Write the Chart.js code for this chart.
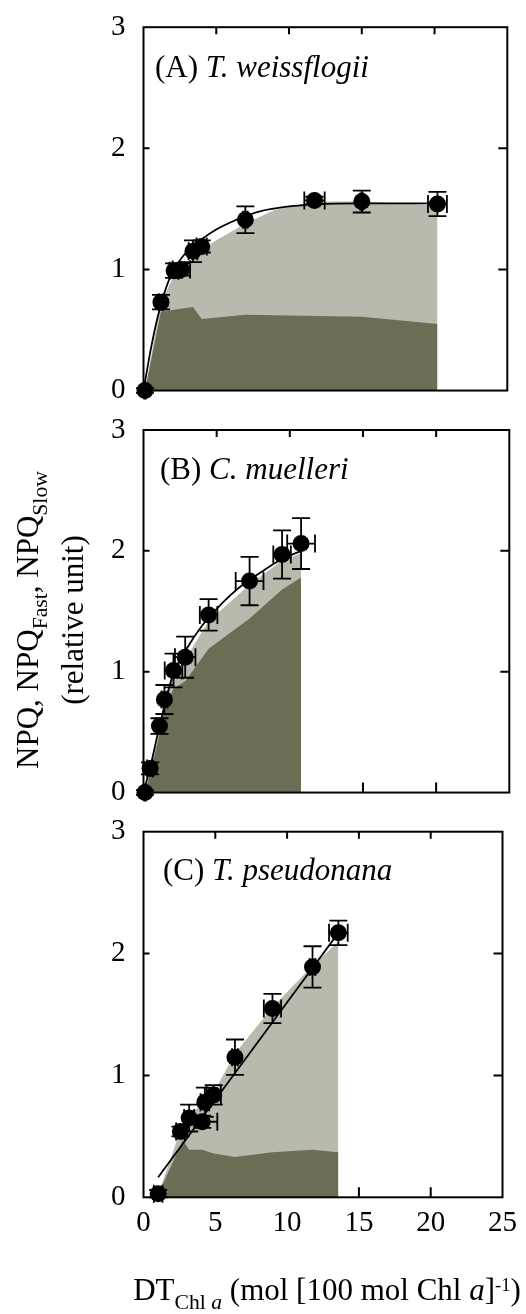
<!DOCTYPE html>
<html>
<head>
<meta charset="utf-8">
<script src="https://cdn.jsdelivr.net/npm/chart.js@4.4.1/dist/chart.umd.min.js"></script>
<style>
  body { margin: 0; background: #fff; }
  #wrap { position: relative; width: 526px; height: 1314px; overflow: hidden; font-family: 'Liberation Serif', serif; color: #000; }
  canvas { position: absolute; left: 0; }
  .tag { position: absolute; font-size: 30px; line-height: 30px; white-space: nowrap; }
  .lo { position: relative; top: 0.42em; font-size: 0.7em; }
  .hi { position: relative; top: -0.5em; font-size: 0.6em; }
</style>
</head>
<body>
<div id="wrap">
  <canvas id="panelA" width="526" height="410" style="top:0px"></canvas>
  <canvas id="panelB" width="526" height="402" style="top:410px"></canvas>
  <canvas id="panelC" width="526" height="502" style="top:812px"></canvas>

  <div class="tag" style="left:155px; top:52px; font-size:31px;">(A) <i>T. weissflogii</i></div>
  <div class="tag" style="left:160px; top:454px; font-size:31px;">(B) <i>C. muelleri</i></div>
  <div class="tag" style="left:163px; top:855px; font-size:31px;">(C) <i>T. pseudonana</i></div>

  <div style="position:absolute; left:-151px; top:578px; width:400px; height:84px; transform:rotate(-90deg); text-align:center; font-size:31px; line-height:42px; white-space:nowrap;">NPQ, NPQ<span class="lo">Fast</span>, NPQ<span class="lo">Slow</span><br>(relative unit)</div>

  <div class="tag" style="left:77px; width:500px; text-align:center; top:1274px; font-size:31px; line-height:31px;">DT<span class="lo">Chl <i>a</i></span> (mol [100 mol Chl <i>a</i>]<span class="hi">-1</span>)</div>
</div>

<script>
const FONT = 'Liberation Serif';
const LIGHT = '#b9b9ad';   // NPQ fast
const DARK = '#6d6d56';    // NPQ slow
const CAP = 9;

// (A) T. weissflogii
const dtA   = [0.1, 1.2, 2.1, 2.6, 3.4, 4.0, 7.0, 11.75, 15.0, 20.2];
const npqA  = [0, 0.73, 0.99, 1.0, 1.15, 1.19, 1.41, 1.57, 1.56, 1.54];
const errXA = [0.05, 0.15, 0.3, 0.6, 0.3, 0.35, 0.15, 0.7, 0.1, 0.65];
const errYA = [0.02, 0.06, 0.06, 0.05, 0.09, 0.05, 0.11, 0.03, 0.09, 0.1];
const fitXA = [0, 0.5, 1, 1.5, 2, 3, 4, 5, 6, 7, 8, 10, 12, 15, 20.2];
const fitYA = [0, 0.34, 0.62, 0.83, 0.98, 1.15, 1.25, 1.33, 1.39, 1.44, 1.48, 1.52, 1.54, 1.545, 1.545];
const totXA = [0.1, 1.2, 2.1, 2.6, 3.4, 4.0, 5.0, 6.0, 7.0, 9.0, 11.75, 15.0, 20.2];
const totYA = [0, 0.73, 0.95, 0.99, 1.10, 1.16, 1.24, 1.31, 1.38, 1.49, 1.56, 1.56, 1.53];
const slowXA = [0.1, 1.2, 3.4, 4.0, 7.0, 10.0, 15.0, 20.2];
const slowYA = [0, 0.65, 0.69, 0.59, 0.625, 0.62, 0.61, 0.55];

// (B) C. muelleri
const dtB   = [0.1, 0.45, 1.09, 1.43, 2.05, 2.85, 4.45, 7.25, 9.47, 10.77];
const npqB  = [0, 0.2, 0.55, 0.77, 1.01, 1.12, 1.47, 1.75, 1.97, 2.06];
const errXB = [0.05, 0.2, 0.25, 0.2, 0.6, 0.7, 0.6, 0.95, 0.6, 0.95];
const errYB = [0.02, 0.05, 0.065, 0.12, 0.14, 0.17, 0.13, 0.2, 0.2, 0.21];
const fitXB = [0, 0.5, 1, 1.5, 2, 3, 4, 5, 6, 7, 8, 9, 10, 10.8];
const fitYB = [0, 0.23, 0.5, 0.75, 0.97, 1.2, 1.38, 1.52, 1.64, 1.74, 1.82, 1.9, 1.96, 2.0];
const totXB = [0.1, 0.45, 1.09, 1.43, 2.05, 2.85, 4.45, 7.25, 9.47, 10.77];
const totYB = [0, 0.18, 0.52, 0.74, 0.98, 1.1, 1.42, 1.72, 1.92, 1.98];
const slowXB = [0.1, 0.45, 1.09, 1.43, 2.05, 2.85, 4.45, 7.25, 9.47, 10.77];
const slowYB = [0, 0.15, 0.48, 0.68, 0.86, 0.92, 1.19, 1.44, 1.68, 1.78];

// (C) T. pseudonana
const dtC   = [1.02, 2.57, 3.18, 4.09, 4.27, 4.89, 6.37, 8.98, 11.77, 13.57];
const npqC  = [0.03, 0.54, 0.65, 0.62, 0.78, 0.84, 1.15, 1.55, 1.89, 2.17];
const errXC = [0.3, 0.3, 0.35, 1.05, 0.3, 0.5, 0.2, 0.6, 0.2, 0.65];
const errYC = [0.03, 0.04, 0.11, 0.05, 0.12, 0.08, 0.145, 0.12, 0.17, 0.1];
const fitXC = [1.02, 13.57];
const fitYC = [0.165, 2.17];
const totXC = [1.02, 2.57, 3.18, 4.27, 4.89, 6.37, 8.98, 11.77, 13.57];
const totYC = [0.02, 0.55, 0.66, 0.8, 0.86, 1.18, 1.56, 1.9, 2.1];
const slowXC = [1.02, 2.73, 3.18, 4.09, 4.89, 6.37, 8.98, 11.77, 13.57];
const slowYC = [0.02, 0.47, 0.39, 0.39, 0.36, 0.33, 0.37, 0.39, 0.37];

const xTicks = [0, 5, 10, 15, 20, 25];
const yTicks = [0, 1, 2, 3];

function pts(xs, ys) {
  return xs.map((x, i) => ({ x: x, y: ys[i] }));
}

// closed frame with inward tick marks
const frame = {
  id: 'frame',
  beforeDatasetsDraw(chart) {
    const { ctx, chartArea: a, scales: { x, y } } = chart;
    ctx.save();
    ctx.strokeStyle = '#000';
    ctx.lineWidth = 2;
    ctx.beginPath();
    xTicks.slice(1, -1).forEach(v => {
      const px = x.getPixelForValue(v);
      ctx.moveTo(px, a.top); ctx.lineTo(px, a.top + 7);
      ctx.moveTo(px, a.bottom); ctx.lineTo(px, a.bottom - 10);
    });
    yTicks.slice(1, -1).forEach(v => {
      const py = y.getPixelForValue(v);
      ctx.moveTo(a.left, py); ctx.lineTo(a.left + 6, py);
      ctx.moveTo(a.right, py); ctx.lineTo(a.right - 9, py);
    });
    ctx.stroke();
    ctx.restore();
  },
  afterDatasetDraw(chart, args) {
    if (args.index !== 1) return;
    const { ctx, chartArea: a } = chart;
    ctx.save();
    ctx.strokeStyle = '#000';
    ctx.lineWidth = 2;
    ctx.strokeRect(a.left, a.top, a.right - a.left, a.bottom - a.top);
    ctx.restore();
  }
};

// x and y error bars with caps, under the markers
const errorBars = {
  id: 'errorBars',
  beforeDatasetDraw(chart, args) {
    const ds = chart.data.datasets[args.index];
    if (!ds.errY) return;
    const { ctx, scales: { x, y } } = chart;
    ctx.save();
    ctx.strokeStyle = '#000';
    ctx.lineWidth = 1.8;
    ds.data.forEach((p, i) => {
      const px = x.getPixelForValue(p.x), py = y.getPixelForValue(p.y);
      const y0 = y.getPixelForValue(p.y - ds.errY[i]), y1 = y.getPixelForValue(p.y + ds.errY[i]);
      const x0 = x.getPixelForValue(p.x - ds.errX[i]), x1 = x.getPixelForValue(p.x + ds.errX[i]);
      ctx.beginPath();
      ctx.moveTo(px, y0); ctx.lineTo(px, y1);
      ctx.moveTo(px - CAP, y0); ctx.lineTo(px + CAP, y0);
      ctx.moveTo(px - CAP, y1); ctx.lineTo(px + CAP, y1);
      ctx.moveTo(x0, py); ctx.lineTo(x1, py);
      ctx.moveTo(x0, py - CAP); ctx.lineTo(x0, py + CAP);
      ctx.moveTo(x1, py - CAP); ctx.lineTo(x1, py + CAP);
      ctx.stroke();
    });
    ctx.restore();
  }
};

function makePanel(id, d, box) {
  return new Chart(document.getElementById(id), {
    type: 'scatter',
    data: {
      datasets: [
        { data: pts(d.totX, d.totY), showLine: true, fill: 'origin', backgroundColor: LIGHT,
          borderWidth: 0, pointRadius: 0, tension: 0, order: 4 },
        { data: pts(d.slowX, d.slowY), showLine: true, fill: 'origin', backgroundColor: DARK,
          borderWidth: 0, pointRadius: 0, tension: 0, order: 3 },
        { data: pts(d.fitX, d.fitY), showLine: true, fill: false, borderColor: '#000',
          borderWidth: 1.8, pointRadius: 0, cubicInterpolationMode: 'monotone', order: 2 },
        { data: pts(d.dt, d.npq), errX: d.errX, errY: d.errY, pointRadius: 8.5,
          pointBackgroundColor: '#000', pointBorderWidth: 0, clip: false, order: 1 }
      ]
    },
    options: {
      responsive: false,
      animation: false,
      devicePixelRatio: 1,
      layout: { padding: { left: 0, top: box.top, bottom: box.bottom, right: box.right } },
      plugins: { legend: { display: false }, tooltip: { enabled: false } },
      scales: {
        x: {
          type: 'linear', min: 0, max: 25, display: box.showX,
          grid: { display: false, drawTicks: false }, border: { display: false },
          ticks: { stepSize: 5, maxRotation: 0, color: '#000', padding: 9,
                   font: { family: FONT, size: 29 } },
          afterFit(s) { s.height = box.xHeight; }
        },
        y: {
          type: 'linear', min: 0, max: 3,
          grid: { display: false, drawTicks: false }, border: { display: false },
          // small lineHeight keeps the labels from pushing the plot area inward
          ticks: { stepSize: 1, color: '#000', padding: 18,
                   font: { family: FONT, size: 29, lineHeight: 0.1 } },
          afterFit(s) { s.width = 143.5; }
        }
      }
    },
    plugins: [frame, errorBars]
  });
}

makePanel('panelA',
  { dt: dtA, npq: npqA, errX: errXA, errY: errYA, fitX: fitXA, fitY: fitYA,
    totX: totXA, totY: totYA, slowX: slowXA, slowY: slowYA },
  { top: 27.2, bottom: 18.3, right: 18.7, showX: false, xHeight: 0 });

makePanel('panelB',
  { dt: dtB, npq: npqB, errX: errXB, errY: errYB, fitX: fitXB, fitY: fitYB,
    totX: totXB, totY: totYB, slowX: slowXB, slowY: slowYB },
  { top: 20, bottom: 17, right: 16.7, showX: false, xHeight: 0 });

makePanel('panelC',
  { dt: dtC, npq: npqC, errX: errXC, errY: errYC, fitX: fitXC, fitY: fitYC,
    totX: totXC, totY: totYC, slowX: slowXC, slowY: slowYC },
  { top: 19.7, bottom: 0, right: 16.7, showX: true, xHeight: 116.7 });
</script>
</body>
</html>
